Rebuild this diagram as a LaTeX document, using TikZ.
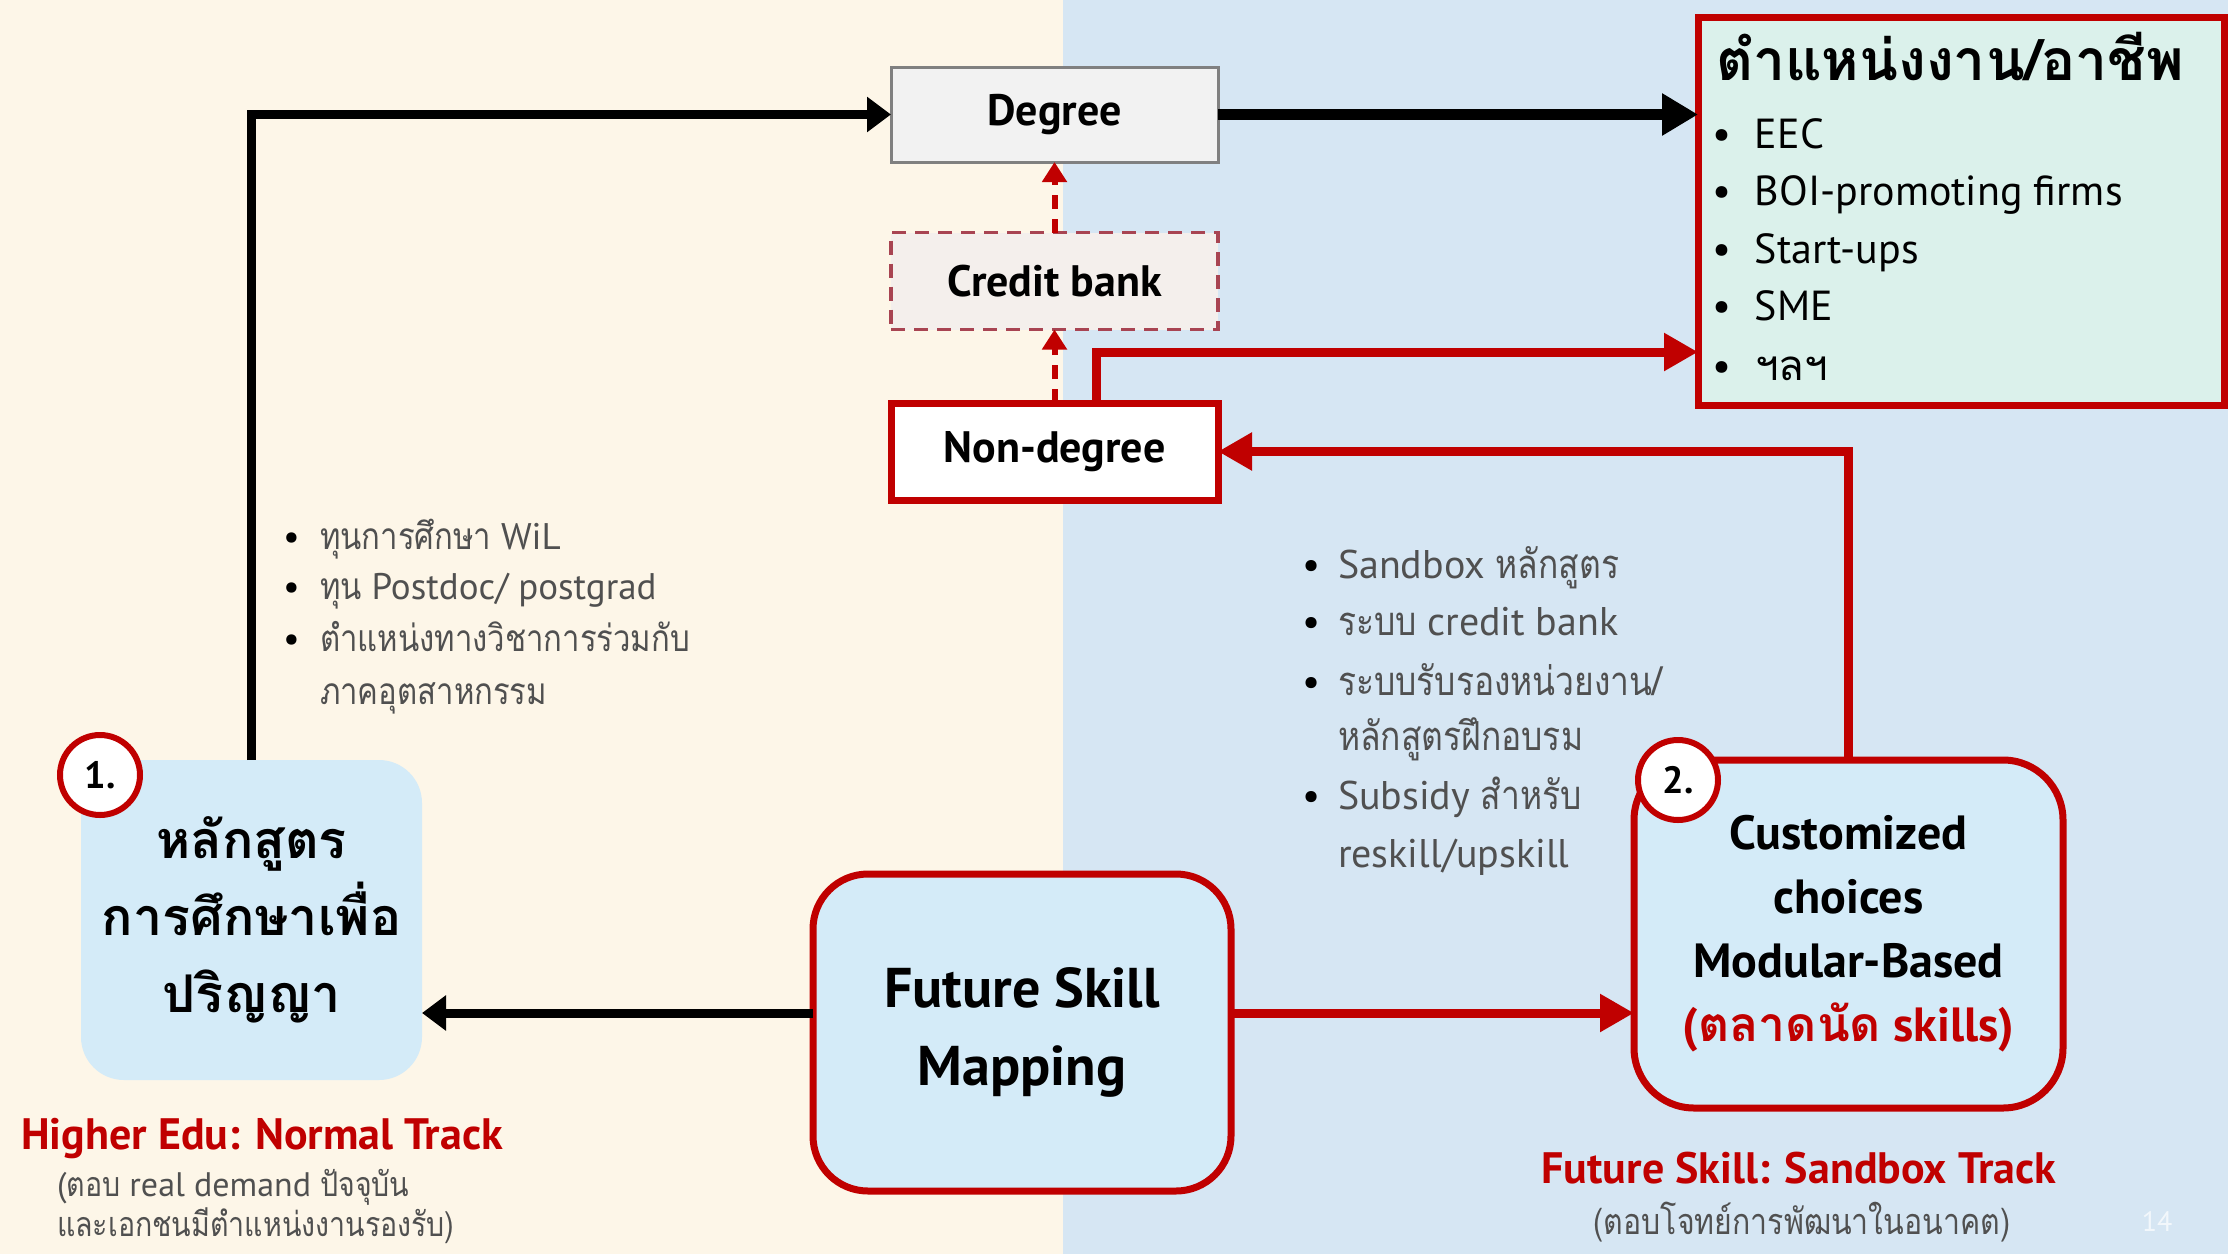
\documentclass[tikz,border=0pt]{standalone}
\usepackage{fontspec}
\setmainfont{PT Sans}
\newfontfamily\thaif[Script=Thai]{Loma}
\newfontfamily\thaic[Script=Thai,FakeStretch=0.84]{Loma}
\newcommand\T[1]{{\thaif #1}}
\newcommand\C[1]{{\thaic #1}}
\newcommand\fs[2]{\fontsize{#1}{#2}\selectfont}
\usetikzlibrary{arrows.meta,calc}
\definecolor{cream}{HTML}{FDF6E8}
\definecolor{bluebg}{HTML}{D6E6F3}
\definecolor{boxblue}{HTML}{D4EBF8}
\definecolor{mint}{HTML}{DBF1EB}
\definecolor{myred}{HTML}{C00000}
\definecolor{cbred}{HTML}{A84452}
\definecolor{degfill}{HTML}{F2F2F2}
\definecolor{cbfill}{HTML}{F4EFEC}
\definecolor{deggray}{HTML}{808080}
\definecolor{txtgray}{HTML}{505050}
\begin{document}
\begin{tikzpicture}[x=1pt,y=-1pt,
  every node/.style={inner sep=0pt, outer sep=0pt},
  midbox/.style={font=\fs{44}{50}\bfseries, text=black, minimum width=327pt, minimum height=95pt},
  roundbox/.style={fill=boxblue, rounded corners=#1, align=center, text=black},
  numcirc/.style={circle, draw=myred, line width=6pt, fill=white, minimum size=80pt, font=\fs{38}{40}\bfseries, text=black},
  grayitem/.style={anchor=mid west, text=txtgray},
  jobitem/.style={anchor=mid west, text=black, font=\fs{42}{48}},
  blkarr/.style={draw=black, line width=9pt, -{Triangle[length=24pt,width=34pt]}},
  blkthick/.style={draw=black, line width=11pt, -{Triangle[length=36pt,width=40pt]}},
  redarr/.style={draw=myred, line width=9pt, -{Triangle[length=34pt,width=36pt]}},
  dasharr/.style={draw=myred, line width=6pt, dash pattern=on 14pt off 10pt, -{Triangle[length=20pt,width=24pt]}}
]
\useasboundingbox (0,0) rectangle (2228,1254);
\fill[cream] (0,0) rectangle (1063,1254);
\fill[bluebg] (1063,0) rectangle (2228,1254);

% boxes
\node[midbox, draw=deggray, line width=3pt, fill=degfill] (degree) at (1054.5,114.5) {Degree};
\node[midbox, draw=cbred, line width=3.5pt, dash pattern=on 14pt off 9pt, fill=cbfill, minimum height=97pt] (cb) at (1054.5,281) {Credit bank};
\node[midbox, draw=myred, line width=7pt, fill=white, minimum height=97pt] (nondeg) at (1054.5,451.5) {Non-degree};
\node[draw=myred, line width=7pt, fill=mint, minimum width=526pt, minimum height=388pt] (job) at (1961,211) {};

\node[roundbox=43pt, minimum width=341pt, minimum height=320pt, font=\fs{52}{77}\bfseries] (hl) at (251.5,920)
  {\T{หลักสูตร}\\\T{การศึกษาเพื่อ}\\\T{ปริญญา}};
\node[roundbox=55pt, draw=myred, line width=7pt, minimum width=418pt, minimum height=317pt, font=\fs{56}{78}\bfseries] (fsm) at (1022,1032.5)
  {Future Skill\\Mapping};
\node[roundbox=60pt, draw=myred, line width=7pt, minimum width=429pt, minimum height=348pt, font=\fs{48}{64}\bfseries] (cust) at (1848.5,934)
  {Customized\\choices\\Modular-Based\\\textcolor{myred}{(\T{ตลาดนัด} skills)}};

\node[numcirc] (c1) at (100,775) {1.};
\node[numcirc] (c2) at (1678,780) {2.};

% job box content
\node[anchor=mid west, font=\fs{57}{60}\bfseries, text=black] (jobt) at (1716,78) {\T{ตำแหน่งงาน/อาชีพ}};
\node[jobitem] (j1) at (1712,146) {\makebox[43pt][l]{•}EEC};
\node[jobitem] (j2) at (1712,203) {\makebox[43pt][l]{•}BOI-promoting firms};
\node[jobitem] (j3) at (1712,261) {\makebox[43pt][l]{•}Start-ups};
\node[jobitem] (j4) at (1712,318) {\makebox[43pt][l]{•}SME};
\node[jobitem] (j5) at (1712,378) {\makebox[43pt][l]{•}\T{ฯลฯ}};

% left gray list
\begin{scope}[every node/.append style={font=\fs{37}{44}}]
\node[grayitem] (l1) at (283,547) {\makebox[37pt][l]{\textcolor{black}{•}}\C{ทุนการศึกษา} WiL};
\node[grayitem] (l2) at (283,597) {\makebox[37pt][l]{\textcolor{black}{•}}\C{ทุน} Postdoc/ postgrad};
\node[grayitem] (l3) at (283,649) {\makebox[37pt][l]{\textcolor{black}{•}}\C{ตำแหน่งทางวิชาการร่วมกับ}};
\node[grayitem] (l4) at (320,702) {\C{ภาคอุตสาหกรรม}};
\end{scope}

% right gray list
\begin{scope}[every node/.append style={font=\fs{40}{48}}]
\node[grayitem] (r1) at (1302,576) {\makebox[36pt][l]{\textcolor{black}{•}}Sandbox \C{หลักสูตร}};
\node[grayitem] (r2) at (1302,633) {\makebox[36pt][l]{\textcolor{black}{•}}\C{ระบบ} credit bank};
\node[grayitem] (r3) at (1302,693) {\makebox[36pt][l]{\textcolor{black}{•}}\C{ระบบรับรองหน่วยงาน/}};
\node[grayitem] (r4) at (1338,748) {\C{หลักสูตรฝึกอบรม}};
\node[grayitem] (r5) at (1302,807) {\makebox[36pt][l]{\textcolor{black}{•}}Subsidy \C{สำหรับ}};
\node[grayitem] (r6) at (1338,865) {reskill/upskill};
\end{scope}

% track labels
\node[font=\fs{44}{50}\bfseries, text=myred] (lab1) at (262,1139) {Higher Edu: Normal Track};
\node[grayitem, font=\fs{34}{40}] (lab1a) at (57,1194) {(\C{ตอบ} real demand \C{ปัจจุบัน}};
\node[grayitem, font=\fs{34}{40}] (lab1b) at (57,1234) {\C{และเอกชนมีตำแหน่งงานรองรับ)}};
\node[font=\fs{44}{50}\bfseries, text=myred] (lab2) at (1799,1168) {Future Skill: Sandbox Track};
\node[font=\fs{36}{40}, text=txtgray] (lab2a) at (1802,1222) {\C{(ตอบโจทย์การพัฒนาในอนาคต)}};
\node[font=\fs{28}{32}, text=white, opacity=0.7] (pg) at (2157,1222) {14};

% connectors
\coordinate (ay) at (0,1013);
\coordinate (jy) at (0,352);
\draw[blkarr] (hl.north) |- (degree.west);
\draw[blkthick] (degree.east) -- (job.west |- degree.east);
\draw[redarr] ($(nondeg.north)+(42,0)$) |- (job.west |- jy);
\draw[redarr] (cust.north) |- (nondeg.east);
\draw[blkarr] (fsm.west |- ay) -- (hl.east |- ay);
\draw[redarr] (fsm.east |- ay) -- (cust.west |- ay);
\draw[dasharr] (nondeg.north) -- (cb.south);
\draw[dasharr] (cb.north) -- (degree.south);
\end{tikzpicture}
\end{document}
